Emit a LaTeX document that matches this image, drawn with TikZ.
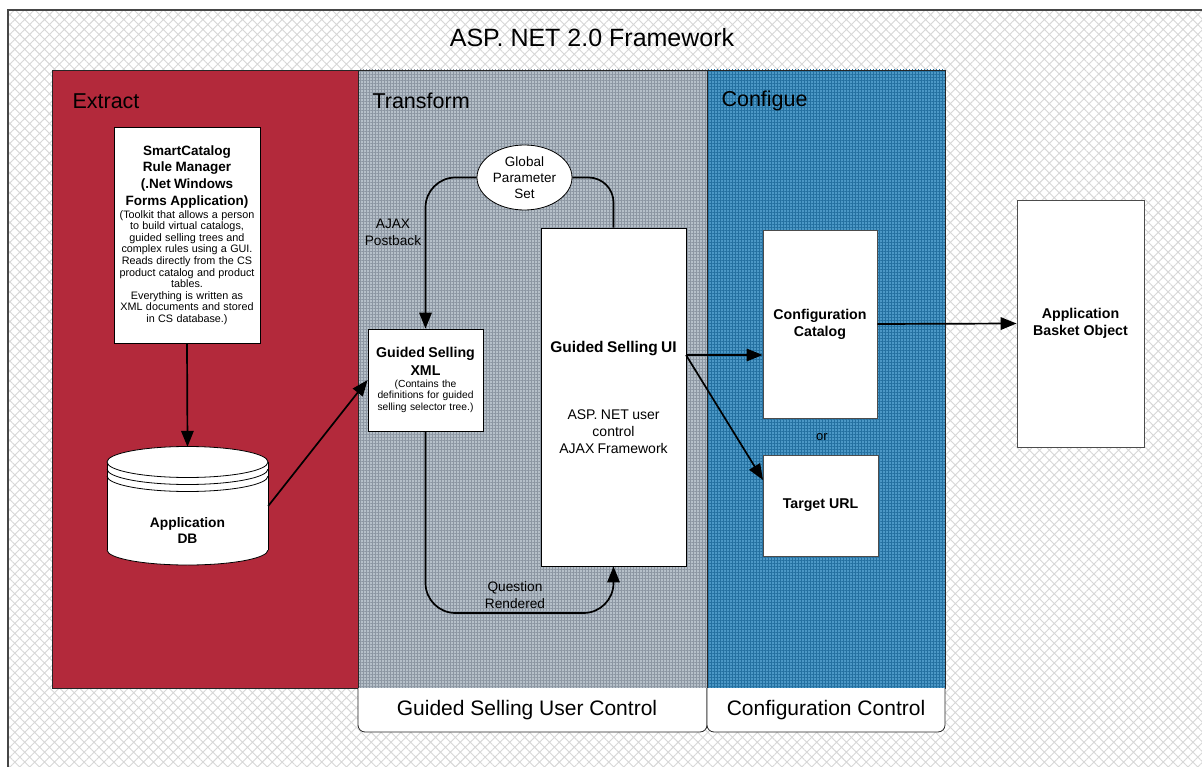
\documentclass[tikz,border=0pt]{standalone}
\usepackage{fontspec}
\setmainfont{Liberation Sans}
\usetikzlibrary{patterns.meta,arrows.meta,shapes.geometric}
\definecolor{exred}{RGB}{179,41,59}
\definecolor{trbase}{RGB}{182,192,201}
\definecolor{trline}{RGB}{140,150,162}
\definecolor{cfbase}{RGB}{76,152,198}
\definecolor{cfline}{RGB}{36,112,160}
\definecolor{hatchgray}{RGB}{215,215,215}
\definecolor{framegray}{RGB}{70,70,70}
\newcommand{\fs}[2]{\fontsize{#1}{#2}\selectfont}
\begin{document}
\begin{tikzpicture}[x=1pt,y=-1pt,
  box/.style={draw=black,fill=white,line width=0.8pt,inner sep=0pt,align=center},
  gbox/.style={box,draw=black!70,font=\fs{14.2}{17}\bfseries},
  conn/.style={line width=1.7pt,black},
  arr/.style={conn,-{Triangle[length=16pt,width=12.5pt]}},
  panel/.style={draw=black!85,line width=0.8pt},
  lbl/.style={font=\fs{21.5}{25},anchor=west},
  tablbl/.style={font=\fs{21}{25}},
  small/.style={font=\fs{13.7}{17},align=center}
]
\useasboundingbox (0,0) rectangle (1202,767);
\fill[white] (0,0) rectangle (1202,767);
\fill[pattern={Hatch[angle=45,distance=7pt,line width=0.9pt]},pattern color=hatchgray] (8,10) rectangle (1202,767);
\draw[framegray,line width=1.5pt] (8,790) -- (8,10) -- (1210,10);

% panels
\fill[exred] (52,70) rectangle (358,688);
\fill[trbase] (358,70) rectangle (707,688);
\fill[pattern={Hatch[angle=0,distance=3pt,line width=0.5pt]},pattern color=trline] (358,70) rectangle (707,688);
\fill[cfbase] (707,70) rectangle (945,688);
\fill[pattern={Hatch[angle=0,distance=3pt,line width=0.5pt]},pattern color=cfline] (707,70) rectangle (945,688);
\draw[panel] (52,70) rectangle (358,688);
\draw[panel] (358,70) rectangle (707,688);
\draw[panel] (707,70) rectangle (945,688);
\draw[panel,fill=white,rounded corners=7pt] (358,688) -- (358,732) -- (707,732) -- (707,688);
\draw[panel,fill=white,rounded corners=7pt] (707,688) -- (707,732) -- (945,732) -- (945,688);

% titles
\node[font=\fs{25}{30}] (title) at (592,38) {ASP. NET 2.0 Framework};
\node[lbl] (lex) at (69,101) {Extract};
\node[lbl] (ltr) at (369,101) {Transform};
\node[lbl] (lcf) at (718,101) {Configue};
\node[tablbl] (tgs) at (527,710) {Guided Selling User Control};
\node[tablbl] (tcc) at (826,710) {Configuration Control};

% SmartCatalog box
\node[box,minimum width=146pt,minimum height=216pt,text width=144pt] (sc) at (187,235)
 {\fs{13.5}{16.8}\bfseries SmartCatalog\\Rule Manager\\(.Net Windows\\Forms Application)\par
  \vspace{1pt}\fs{10.8}{11.6}\mdseries (Toolkit that allows a person\\to build virtual catalogs,\\guided selling trees and\\complex rules using a GUI.\\Reads directly from the CS\\product catalog and product\\tables.\\Everything is written as\\XML documents and stored\\in CS database.)\par};

% database cylinder
\node[minimum width=161pt,minimum height=118pt,inner sep=0pt] (db) at (187.5,506) {};
\fill[white] (107,462) rectangle (268,550);
\fill[white] (187.5,550) ellipse[x radius=80.5,y radius=15];
\draw[line width=0.8pt] (107,462) -- (107,550);
\draw[line width=0.8pt] (268,462) -- (268,550);
\begin{scope}
\clip (100,550) rectangle (280,572);
\draw[line width=0.8pt] (187.5,550) ellipse[x radius=80.5,y radius=15];
\end{scope}
\draw[line width=0.8pt,fill=white] (187.5,462) ellipse[x radius=80.5,y radius=15.5];
\begin{scope}
\clip (100,469) rectangle (280,500);
\draw[line width=0.8pt] (187.5,469) ellipse[x radius=80.5,y radius=15.5];
\end{scope}
\begin{scope}
\clip (100,476) rectangle (280,500);
\draw[line width=0.8pt] (187.5,476) ellipse[x radius=80.5,y radius=15.5];
\end{scope}
\node[font=\fs{13.8}{16}\bfseries,align=center] (dbt) at (187.5,530) {Application\\DB};

% Transform content
\node[box,minimum width=115pt,minimum height=102pt,text width=113pt] (xml) at (425.5,380)
 {\fs{14.2}{18}\bfseries Guided Selling\\XML\par
  \fs{10.3}{11.6}\mdseries (Contains the\\definitions for guided\\selling selector tree.)\par};
\node[draw=black,fill=white,ellipse,line width=0.8pt,minimum width=95pt,minimum height=65pt,inner sep=0pt,align=center,font=\fs{13.5}{16}] (gp) at (524.5,177.5) {Global\\Parameter\\Set};
\node[box,minimum width=145pt,minimum height=338pt,text width=143pt] (ui) at (613.5,397)
 {\fs{15.5}{17}\bfseries Guided Selling UI\par\vspace{50pt}
  \fs{14}{17}\mdseries ASP. NET user\\control\\AJAX Framework\par};
\node[small] (ajax) at (393,232) {AJAX\\Postback};
\node[small] (qr) at (515,595) {Question\\Rendered};

% Configure content
\node[gbox,minimum width=114pt,minimum height=188pt] (cc) at (820,324) {Configuration\\Catalog};
\node[gbox,minimum width=115pt,minimum height=101pt] (tu) at (820.5,505.5) {Target URL};
\node[font=\fs{13}{15}] (or) at (822,437) {or};
\node[gbox,minimum width=127pt,minimum height=247pt] (ab) at (1080.5,323.5) {Application\\Basket Object};

% connectors
\draw[arr] (sc.south) -- (db.north);
\draw[arr] (db.east) -- (xml.west);
\draw[arr,rounded corners=30pt] (gp.west) -| (xml.north);
\draw[conn,rounded corners=25pt] (gp.east) -| (ui.north);
\coordinate (low) at (0,613);
\draw[arr,rounded corners=30pt] (xml.south) |- (ui.south |- low) -- (ui.south);
\coordinate (uo) at (686,355);
\coordinate (tin) at (763,480);
\draw[arr] (uo) -- (uo -| cc.west);
\draw[arr] (uo) -- (tin);
\draw[arr] (cc.east) -- (ab.west);
\end{tikzpicture}
\end{document}
